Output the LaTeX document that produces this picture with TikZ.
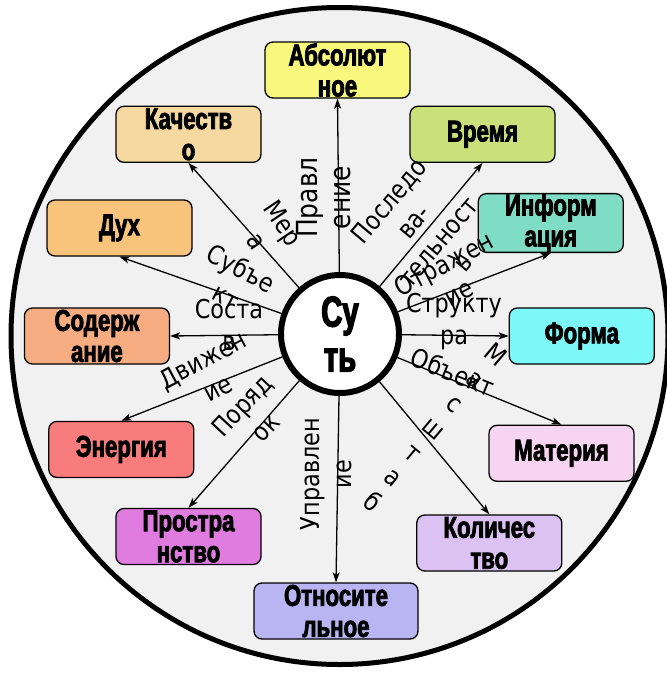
\documentclass[tikz,border=0pt]{standalone}
\usepackage{fontspec}
\setmainfont{DejaVu Sans}
\newfontfamily\lblfont[FakeStretch=0.86]{DejaVu Sans}
\newfontfamily\boxfont[FakeStretch=0.74,FakeBold=2.6]{Liberation Sans}
\newfontfamily\corefont[FakeStretch=0.68,FakeBold=3]{Liberation Sans}
\usetikzlibrary{arrows.meta}
\definecolor{bgc}{HTML}{F1F1F1}
\definecolor{cAbs}{HTML}{F8F87C}
\definecolor{cKach}{HTML}{F5D9A0}
\definecolor{cVrem}{HTML}{C9E07B}
\definecolor{cDuh}{HTML}{F8C47C}
\definecolor{cInf}{HTML}{7FDDC6}
\definecolor{cSod}{HTML}{F5AC80}
\definecolor{cForm}{HTML}{7CF8F8}
\definecolor{cEn}{HTML}{F87C7C}
\definecolor{cMat}{HTML}{F6D4F2}
\definecolor{cProst}{HTML}{E07CE0}
\definecolor{cKol}{HTML}{DCC2F2}
\definecolor{cOtn}{HTML}{B9B5F2}
\begin{document}
\begin{tikzpicture}[x=1pt,y=-1pt,
  box/.style={draw, line width=1.3pt, rounded corners=8pt, minimum width=145pt, minimum height=56pt, inner sep=0pt, align=center, font=\boxfont\bfseries\fontsize{30}{31}\selectfont},
  core/.style={circle, draw, line width=6pt, fill=white, minimum size=118pt, inner sep=0pt, align=center, font=\corefont\bfseries\fontsize{43}{45}\selectfont},
  lbl/.style={align=center, inner sep=0pt, font=\lblfont\fontsize{26}{32}\selectfont},
  conn/.style={line width=1.3pt, -{Stealth[length=10pt,width=7pt,inset=2.5pt]}}]
\useasboundingbox (0,0) rectangle (667,673);
\draw[line width=5pt, fill=bgc] (339.5,336) circle[radius=328.5pt];
% boxes
\node[box, fill=cAbs] (abs) at (337.5,70) {Абсолют\\ное};
\node[box, fill=cKach] (kach) at (188.5,134.3) {Качеств\\о};
\node[box, fill=cVrem] (vrem) at (482.5,134.3) {Время};
\node[box, fill=cDuh] (duh) at (119.5,228) {Дух};
\node[box, fill=cInf] (inf) at (550.8,223) {Информ\\ация};
\node[box, fill=cSod] (sod) at (96.9,336) {Содерж\\ание};
\node[box, fill=cForm] (form) at (581.8,336) {Форма};
\node[box, fill=cEn] (en) at (121.3,449.4) {Энергия};
\node[box, fill=cMat] (mat) at (561.5,453.3) {Материя};
\node[box, fill=cProst] (prost) at (188.5,536.5) {Простра\\нство};
\node[box, fill=cKol] (kol) at (489.3,543) {Количес\\тво};
\node[box, fill=cOtn, minimum width=164pt] (otn) at (336,611) {Относите\\льное};
% centre
\node[core] (c) at (340,334) {Су\\ть};
% connectors
\draw[conn] (c) -- (abs.south);
\draw[conn] (c) -- (kach.south);
\draw[conn] (c) -- (vrem.south);
\draw[conn] (c) -- (duh.south);
\draw[conn] (c) -- (inf.south);
\draw[conn] (c) -- (sod.east);
\draw[conn] (c) -- (form.west);
\draw[conn] (c) -- (en.north);
\draw[conn] (c) -- (mat.north);
\draw[conn] (c) -- (prost.north);
\draw[conn] (c) -- (kol.north);
\draw[conn] (c) -- (otn.north);
% labels
\node[lbl, rotate=90, font=\lblfont\fontsize{29}{33}\selectfont] (lPrav) at (323.5,197.5) {Правл\\ение};
\node[lbl, rotate=-56] (lMer) at (270,232) {Мер\\а};
\node[lbl, rotate=50] (lPosl) at (425.5,231.5) {Последо\\ва-\\тельност\\ь};
\node[lbl, rotate=28] (lOtr) at (451,278) {Отражен\\ие};
\node[lbl] (lStr) at (454,322) {Структу\\ра};
\node[lbl, rotate=-22] (lObj) at (453,372) {Объект};
\node[lbl, rotate=-40] (lMas) at (434.5,428) {М\\а\\с\\ш\\т\\а\\б};
\node[lbl, rotate=90] (lUpr) at (326.5,474) {Управлен\\ие};
\node[lbl, rotate=47] (lPor) at (253.5,416.5) {Поряд\\ок};
\node[lbl, rotate=28] (lDv) at (210,374) {Движен\\ие};
\node[lbl] (lSos) at (229,325) {Соста\\в};
\node[lbl, rotate=-28] (lSub) at (234,282) {Субъе\\кт};
\end{tikzpicture}
\end{document}
